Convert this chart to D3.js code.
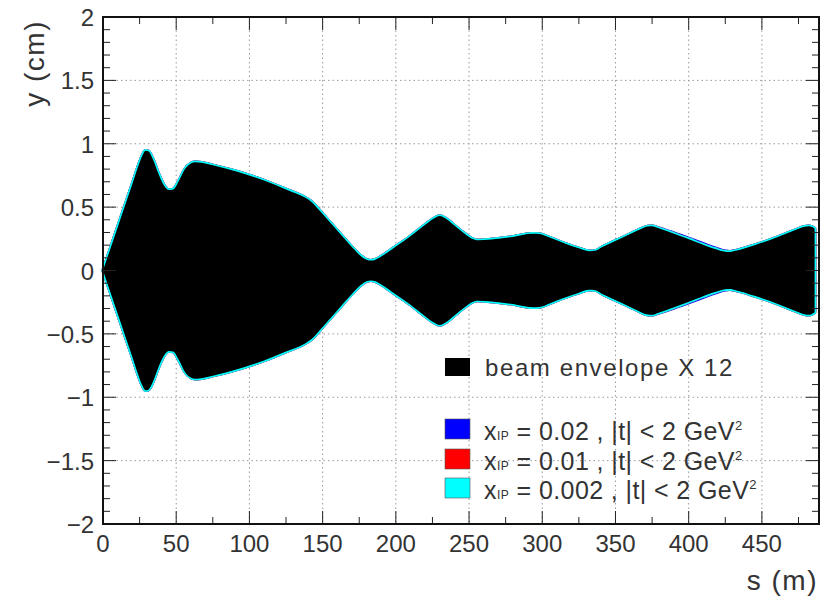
<!DOCTYPE html>
<html>
<head>
<meta charset="utf-8">
<script src="https://cdn.jsdelivr.net/npm/d3@7"></script>
<style>
  body { margin: 0; background: #fff; }
  text { font-family: "Liberation Sans", Arial, sans-serif; }
</style>
</head>
<body>
<div id="chart"></div>
<script>
// s positions (m) where the half widths were read
const sPos = [0, 5, 10, 15, 20, 24, 27, 29, 31, 34, 38, 42, 45, 48, 52, 56, 60, 63, 66, 75, 90, 110, 125, 138, 142, 150, 160, 170, 176, 180, 183, 186, 190, 200, 210, 220, 226, 230, 234, 240, 247, 252, 256, 265, 280, 293, 298, 305, 315, 325, 332, 336, 341, 355, 365, 372, 375, 379, 390, 405, 418, 425, 428, 432, 445, 460, 472, 479, 482, 484, 486]

// beam envelope X 12, half width (cm)
const envelope = [0, 0.17, 0.34, 0.51, 0.68, 0.82, 0.91, 0.945, 0.94, 0.88, 0.76, 0.665, 0.635, 0.64, 0.71, 0.8, 0.845, 0.855, 0.852, 0.83, 0.785, 0.71, 0.64, 0.575, 0.545, 0.445, 0.315, 0.185, 0.115, 0.085, 0.078, 0.085, 0.11, 0.19, 0.27, 0.36, 0.41, 0.43, 0.41, 0.355, 0.29, 0.25, 0.238, 0.245, 0.265, 0.29, 0.288, 0.26, 0.215, 0.175, 0.152, 0.155, 0.185, 0.26, 0.315, 0.348, 0.35, 0.335, 0.29, 0.225, 0.17, 0.148, 0.146, 0.155, 0.2, 0.26, 0.315, 0.345, 0.35, 0.345, 0.33]

// scattered protons, half width (cm)
const xip002 = [0, 0.17, 0.34, 0.51, 0.68, 0.82, 0.91, 0.945, 0.94, 0.88, 0.76, 0.665, 0.635, 0.64, 0.71, 0.8, 0.845, 0.855, 0.852, 0.83, 0.785, 0.71, 0.64, 0.575, 0.545, 0.445, 0.315, 0.185, 0.115, 0.085, 0.078, 0.085, 0.11, 0.19, 0.27, 0.36, 0.41, 0.43, 0.41, 0.355, 0.29, 0.25, 0.238, 0.245, 0.265, 0.29, 0.288, 0.26, 0.215, 0.175, 0.152, 0.155, 0.185, 0.26, 0.315, 0.348, 0.35, 0.337, 0.295, 0.232, 0.176, 0.153, 0.149, 0.157, 0.2, 0.26, 0.315, 0.345, 0.35, 0.345, 0.33]
const xip001 = [0, 0.17, 0.34, 0.51, 0.68, 0.82, 0.91, 0.945, 0.94, 0.88, 0.76, 0.665, 0.635, 0.64, 0.71, 0.8, 0.845, 0.855, 0.852, 0.83, 0.785, 0.71, 0.64, 0.575, 0.545, 0.445, 0.315, 0.185, 0.115, 0.085, 0.078, 0.085, 0.11, 0.19, 0.27, 0.36, 0.41, 0.43, 0.41, 0.355, 0.29, 0.25, 0.238, 0.245, 0.265, 0.29, 0.288, 0.26, 0.215, 0.175, 0.152, 0.155, 0.185, 0.26, 0.315, 0.348, 0.35, 0.335, 0.29, 0.225, 0.17, 0.148, 0.146, 0.155, 0.2, 0.26, 0.315, 0.345, 0.35, 0.345, 0.33]
const xip0002 = [0, 0.17, 0.34, 0.51, 0.68, 0.82, 0.91, 0.945, 0.94, 0.88, 0.76, 0.665, 0.635, 0.64, 0.71, 0.8, 0.845, 0.855, 0.852, 0.83, 0.785, 0.71, 0.64, 0.575, 0.545, 0.445, 0.315, 0.185, 0.115, 0.085, 0.078, 0.085, 0.11, 0.19, 0.27, 0.36, 0.41, 0.43, 0.41, 0.355, 0.29, 0.25, 0.238, 0.245, 0.265, 0.29, 0.288, 0.26, 0.215, 0.175, 0.152, 0.155, 0.185, 0.26, 0.315, 0.348, 0.35, 0.335, 0.29, 0.225, 0.17, 0.148, 0.146, 0.155, 0.2, 0.26, 0.315, 0.345, 0.35, 0.345, 0.33]

const xTicks = [0, 50, 100, 150, 200, 250, 300, 350, 400, 450]
const yTicks = [-2, -1.5, -1, -0.5, 0, 0.5, 1, 1.5, 2]
const xipValues = ["0.02", "0.01", "0.002"]
const seriesColors = ["#0000ff", "#ff0000", "#00ffff"]

const W = 822, H = 603
const mLeft = 103, mRight = 819, mTop = 17, mBottom = 524

const svg = d3.select("#chart").append("svg")
  .attr("width", W)
  .attr("height", H)

const x = d3.scaleLinear().domain([0, 489]).range([mLeft, mRight])
const y = d3.scaleLinear().domain([-2, 2]).range([mBottom, mTop])

// grid
const grid = svg.append("g")
  .attr("stroke", "#9a9a9a")
  .attr("stroke-width", 1)
  .attr("stroke-dasharray", "1.5,3")
grid.selectAll(".gx").data(xTicks.slice(1)).enter().append("line")
  .attr("x1", d => x(d)).attr("x2", d => x(d))
  .attr("y1", mTop).attr("y2", mBottom)
grid.selectAll(".gy").data(yTicks.slice(1, -1)).enter().append("line")
  .attr("x1", mLeft).attr("x2", mRight)
  .attr("y1", d => y(d)).attr("y2", d => y(d))

// areas, colored ones first and the envelope on top
const area = vals => d3.area()
  .x((d, i) => x(sPos[i]))
  .y0((d, i) => y(-vals[i]))
  .y1((d, i) => y(vals[i]))
  .curve(d3.curveMonotoneX)(sPos)

const series = [xip002, xip001, xip0002]
series.forEach((vals, i) => {
  svg.append("path")
    .attr("d", area(vals))
    .attr("fill", seriesColors[i])
    .attr("stroke", seriesColors[i])
    .attr("stroke-width", 3.4)
    .attr("stroke-linejoin", "round")
})
svg.append("path")
  .attr("d", area(envelope))
  .attr("fill", "#000")

// ticks on all four sides, pointing inwards
const ticks = svg.append("g").attr("stroke", "#222").attr("stroke-width", 1)
const xMinor = d3.range(25, 489, 50)
const yMinor = d3.range(-19, 20).map(d => d / 10).filter(d => Math.abs(d * 2 - Math.round(d * 2)) > 1e-6)
xTicks.forEach(d => {
  ticks.append("line").attr("x1", x(d)).attr("x2", x(d)).attr("y1", mBottom).attr("y2", mBottom - 13)
  ticks.append("line").attr("x1", x(d)).attr("x2", x(d)).attr("y1", mTop).attr("y2", mTop + 13)
})
xMinor.forEach(d => {
  ticks.append("line").attr("x1", x(d)).attr("x2", x(d)).attr("y1", mBottom).attr("y2", mBottom - 7)
  ticks.append("line").attr("x1", x(d)).attr("x2", x(d)).attr("y1", mTop).attr("y2", mTop + 7)
})
yTicks.forEach(d => {
  ticks.append("line").attr("x1", mLeft).attr("x2", mLeft + 13).attr("y1", y(d)).attr("y2", y(d))
  ticks.append("line").attr("x1", mRight).attr("x2", mRight - 13).attr("y1", y(d)).attr("y2", y(d))
})
yMinor.forEach(d => {
  ticks.append("line").attr("x1", mLeft).attr("x2", mLeft + 7).attr("y1", y(d)).attr("y2", y(d))
  ticks.append("line").attr("x1", mRight).attr("x2", mRight - 7).attr("y1", y(d)).attr("y2", y(d))
})

// frame
svg.append("rect")
  .attr("x", mLeft).attr("y", mTop)
  .attr("width", mRight - mLeft).attr("height", mBottom - mTop)
  .attr("fill", "none").attr("stroke", "#111").attr("stroke-width", 2)

const fmt = d => String(d).replace("-", "\u2212")

// tick labels
svg.selectAll(".xl").data(xTicks).enter().append("text")
  .attr("x", d => x(d))
  .attr("y", 552)
  .attr("text-anchor", "middle")
  .attr("font-size", 24)
  .attr("fill", "#333")
  .text(fmt)
svg.selectAll(".yl").data(yTicks).enter().append("text")
  .attr("x", 94)
  .attr("y", d => y(d) + 9)
  .attr("text-anchor", "end")
  .attr("font-size", 24)
  .attr("fill", "#333")
  .text(fmt)

// axis titles
svg.append("text")
  .attr("x", 818).attr("y", 590)
  .attr("text-anchor", "end")
  .attr("font-size", 28)
  .attr("letter-spacing", 1.5)
  .attr("fill", "#333")
  .text("s (m)")
svg.append("text")
  .attr("transform", "translate(44,20) rotate(-90)")
  .attr("text-anchor", "end")
  .attr("font-size", 28)
  .attr("letter-spacing", 1.5)
  .attr("fill", "#333")
  .text("y (cm)")

// legend
const lx = 445
svg.append("rect").attr("x", lx).attr("y", 358).attr("width", 25).attr("height", 18).attr("fill", "#000")
svg.append("text")
  .attr("x", 485).attr("y", 376)
  .attr("font-size", 24).attr("letter-spacing", 1.6).attr("fill", "#333")
  .text("beam envelope X 12")

const rowY = [440, 470, 499]
xipValues.forEach((v, i) => {
  svg.append("rect")
    .attr("x", lx).attr("y", rowY[i] - 21).attr("width", 25).attr("height", 20)
    .attr("fill", seriesColors[i]).attr("stroke", "#555").attr("stroke-width", 0.6)
  const t = svg.append("text")
    .attr("x", 484).attr("y", rowY[i])
    .attr("font-size", 25).attr("letter-spacing", 0.4).attr("fill", "#333")
  t.append("tspan").text("x")
  t.append("tspan").attr("font-size", 12).attr("letter-spacing", 0.5).text("IP")
  t.append("tspan").text(" = " + v + " , |t| < 2 GeV")
  t.append("tspan").attr("font-size", 13).attr("dy", -10).attr("letter-spacing", 0).text("2")
})
</script>
</body>
</html>
